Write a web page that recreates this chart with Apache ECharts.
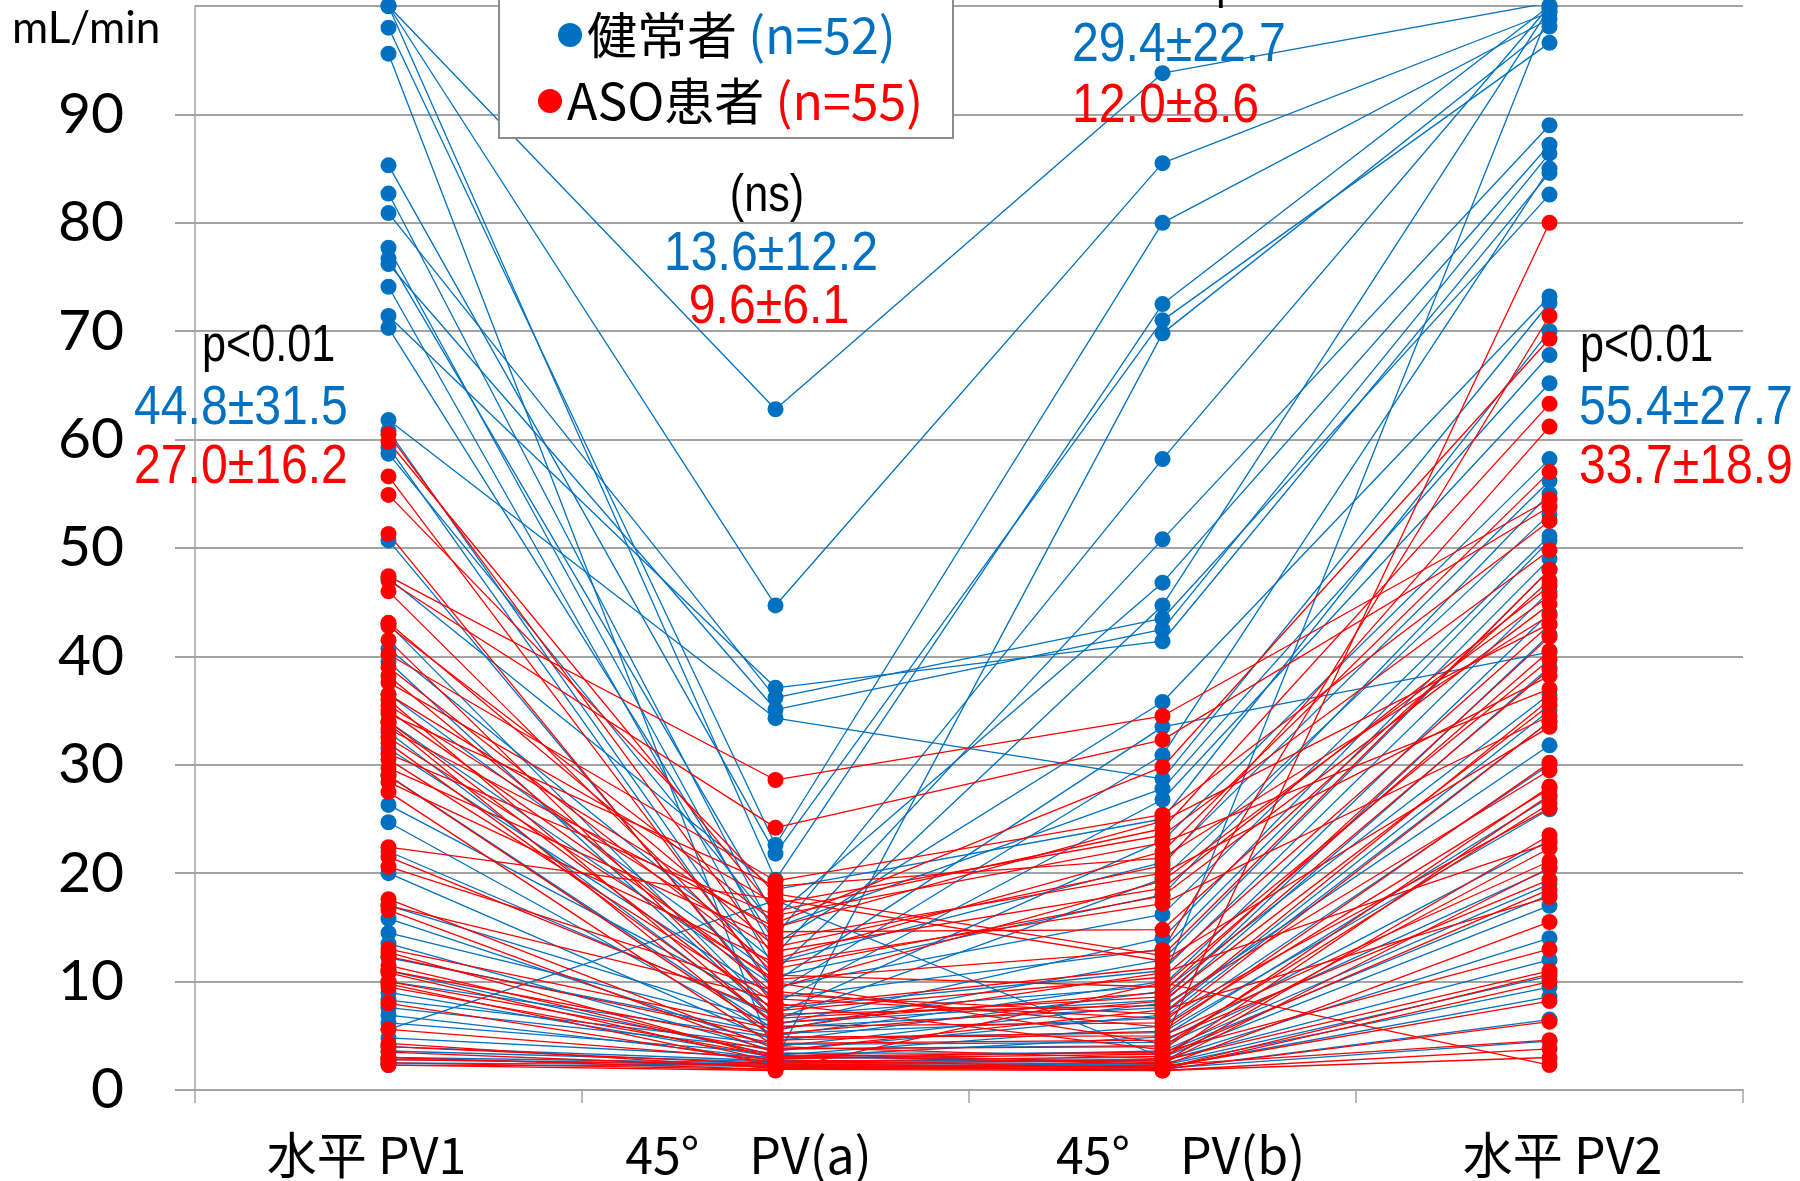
<!DOCTYPE html>
<html><head><meta charset="utf-8">
<script src="https://cdn.jsdelivr.net/npm/echarts@6/dist/echarts.min.js"></script>
<style>html,body{margin:0;padding:0;background:#fff}#c{width:1800px;height:1181px}</style>
</head><body><div id="c"></div>
<script>
// ---- categories / tick labels ----
const categories = ['水平 PV1', '45°\u3000PV(a)', '45°\u3000PV(b)', '水平 PV2'];
const yTicks = [0, 10, 20, 30, 40, 50, 60, 70, 80, 90, 100];

// ---- 健常者 (n=52): one value per subject per position ----
const blueH1 = [100,100,100,98,95.6,85.3,82.7,80.9,77.7,76.7,76.2,74.1,71.4,70.3,61.8,60.8,59.3,58.7,50.7,47.2,43,40.7,39.5,36.5,34,33,31.5,29,26.3,24.7,22,20,17,15.8,14.5,13.5,12.2,11,10,9,8.3,7.6,6.9,6.2,5.6,4.8,4.0,3.6,3.0,2.8,2.5,2.3];
const blueA  = [62.8,44.7,19.4,22.6,2.8,21.8,14.2,36.2,12.5,16,35.1,11,37.1,13.5,34.3,10,9,15,8,18.5,7,11.8,6.5,10.5,9.5,6,8.5,5.5,7.5,5,6.8,4.5,6.2,4,5.8,3.6,5.2,3.2,4.8,3,4.2,3.8,2.9,3.4,17.5,3.0,2.7,2.6,2.5,2.4,2.3,2.2];
const blueB  = [93.8,85.5,72.5,80,69.8,71,58.2,43.5,50.8,46.8,42.5,44.7,41.4,35.8,28.7,33.5,30.9,27.8,26.8,25,23,21,19.5,18,16.2,14,13,12,11,10,9.6,9.1,8.3,8.0,7.6,6.9,6.6,5.9,5.3,4.9,4.4,4.1,3.6,3.4,3.0,2.8,2.7,2.4,2.3,2.1,2.0,1.9];
const blueH2 = [100.3,99.4,100,98.8,98.1,96.6,100,82.6,89,87.2,86.4,99.8,84.6,73.2,72.6,40.4,85,67.8,65.2,70,58.2,56.2,53.1,55,51.1,50.7,49,48,46,99.5,44,36.5,42,39,31.8,35,34,30,25.9,27,23,20.4,19,18,17,14,12,10.5,9.5,8.6,4.5,6.5];

// ---- ASO患者 (n=55) ----
const redH1 = [60.5,59.8,56.6,54.9,51.3,47.4,43.1,46,47,42.8,41.5,40.2,39,38.2,37.6,36.5,36,35.5,35,34.7,34,33.8,33.3,32.5,32,31,30.5,29.7,29,28.4,27.5,22.4,21.5,20.6,17.6,17,16.6,13,12.7,12.3,11.5,11,10.8,10,9.8,9.5,8.0,5.6,4.3,4,3.5,3,2.8,2.5,2.3];
const redA  = [12.1,16.5,9.4,18.1,7.7,28.6,13.2,10.6,24.2,15.4,6.6,19.3,11.2,8.8,17.2,14.6,5.9,12.8,9.9,18.8,7.3,4.6,15.0,10.2,6.2,16.1,8.0,13.9,5.2,11.7,4.0,17.6,7.0,9.1,3.8,8.4,3.4,5.6,2.9,4.9,3.2,4.3,2.6,3.6,2.2,3.1,2.5,2.8,2.0,2.4,2.1,1.9,2.3,1.9,1.8];
const redB  = [22.0,24.1,19.3,12.4,11.3,34.5,20.7,9.5,32.3,29.8,8.6,25.4,17.9,7.0,23.5,14.8,6.2,18.6,4.3,21.4,10.4,5.4,24.8,12.9,9.0,22.8,3.7,20.0,8.2,17.2,2.9,11.9,7.8,5.8,4.0,6.6,2.5,10.8,3.3,5.0,2.4,4.6,3.1,7.4,2.2,3.5,2.7,2.0,1.9,2.1,1.9,2.3,1.8,1.8,9.9];
const redH2 = [57.0,63.3,45.6,48.0,42.9,54.5,61.2,40.5,53.8,69.3,38.8,52.5,44.8,36.0,49.8,47.0,34.0,46.5,80.0,43.8,39.7,30.2,43.0,71.4,41.8,37.0,28.0,38.2,35.5,34.5,27.2,33.5,29.5,27.8,26.4,26.0,23.5,22.8,22.3,21.1,20.5,19.4,18.5,17.8,15.5,13.0,11.0,10.7,10.0,8.2,6.3,4.6,3.8,3.0,2.3];

// ---- text annotations ----
const groupNames = ['健常者', 'ASO患者'];
const groupN = ['(n=52)', '(n=55)'];
const statsPV1 = ['p<0.01', '44.8±31.5', '27.0±16.2'];
const statsPVa = ['(ns)', '13.6±12.2', '9.6±6.1'];
const statsPVb = ['p<0.01', '29.4±22.7', '12.0±8.6'];
const statsPV2 = ['p<0.01', '55.4±27.7', '33.7±18.9'];
const unitLabel = 'mL/min';

const BLUE = '#0070C0', RED = '#FF0000', GRID = '#a3a3a3';
const CJK = '"Noto Sans CJK JP", "Noto Sans", sans-serif';
const SANS = '"Liberation Sans", Arial, sans-serif';

function lineSeries(name, color, vals) {
  return {
    type: 'line', name: name, data: vals,
    symbol: 'circle', symbolSize: 16, showSymbol: true,
    itemStyle: { color: color },
    lineStyle: { color: color, width: 1.3 },
    emphasis: { disabled: true }, silent: true, animation: false, z: 2
  };
}
const series = [];
for (let i = 0; i < blueH1.length; i++) series.push(lineSeries(groupNames[0], BLUE, [blueH1[i], blueA[i], blueB[i], blueH2[i]]));
for (let i = 0; i < redH1.length; i++) series.push(lineSeries(groupNames[1], RED, [redH1[i], redA[i], redB[i], redH2[i]]));

// condensed annotation text: scaled horizontally around its anchor
function txt(text, x, y, color, align, size, sx) {
  return { type: 'text', z: 30, silent: true, x: x, y: y, scaleX: sx, scaleY: 1,
    style: { text: text, x: 0, y: 0, fill: color, textAlign: align, textVerticalAlign: 'middle',
      fontSize: size, fontFamily: SANS } };
}
function num(text, x, y, color, align) { return txt(text, x, y, color, align || 'left', 56, 0.86); }
function sig(text, x, y, align) { return txt(text, x, y, '#000', align || 'left', 52, 0.83); }

const legendRich = {
  t: { fontSize: 50, fontFamily: CJK, color: '#000' },
  b: { fontSize: 50, fontFamily: CJK, color: BLUE },
  r: { fontSize: 50, fontFamily: CJK, color: RED }
};
function legendCfg(i, left, top) {
  return {
    data: [groupNames[i]], left: left, top: top, icon: 'circle', itemWidth: 24, itemHeight: 24,
    selectedMode: false, z: 40, padding: 0,
    formatter: function (n) { return '{t|' + n + '} {' + (i === 0 ? 'b' : 'r') + '|' + groupN[i] + '}'; },
    textStyle: { fontSize: 50, fontFamily: CJK, color: '#000', rich: legendRich }
  };
}

const xRich = {};
const xPad = [[0, 44, 0, 0], [0, 54, 0, 0], [0, 0, 0, 36], [0, 0, 0, 26]];
xPad.forEach(function (p, i) { xRich['s' + i] = { fontSize: 50, fontFamily: CJK, color: '#000', padding: p }; });

const chart = echarts.init(document.getElementById('c'));
chart.setOption({
  animation: false,
  backgroundColor: '#fff',
  grid: { left: 195, right: 57, top: 6, bottom: 91, containLabel: false },
  xAxis: {
    type: 'category', data: categories, boundaryGap: true,
    axisLine: { show: true, lineStyle: { color: GRID, width: 2 } },
    axisTick: { show: true, length: 13, lineStyle: { color: GRID, width: 1.5 } },
    axisLabel: { margin: 40, formatter: function (v, i) { return '{s' + i + '|' + v + '}'; }, rich: xRich },
    splitLine: { show: false }
  },
  yAxis: {
    type: 'value', min: yTicks[0], max: yTicks[yTicks.length - 1], interval: 10,
    axisLine: { show: true, lineStyle: { color: GRID, width: 1.5 } },
    axisTick: { show: true, length: 20, lineStyle: { color: GRID, width: 2 } },
    axisLabel: { margin: 71, fontSize: 57, fontFamily: 'Lato, sans-serif', color: '#000', showMaxLabel: false },
    splitLine: { show: true, lineStyle: { color: GRID, width: 2 } }
  },
  legend: [legendCfg(0, 558, 10), legendCfg(1, 538, 76)],
  graphic: [
    { type: 'rect', z: 20, silent: true, shape: { x: 499, y: -10, width: 454, height: 148 },
      style: { fill: '#fff', stroke: '#8c8c8c', lineWidth: 2 } },
    { type: 'text', z: 30, silent: true,
      style: { text: unitLabel, x: 12, y: 29, fill: '#000', textVerticalAlign: 'middle', fontSize: 44, fontFamily: 'Lato, sans-serif' } },
    sig(statsPV1[0], 202, 347),
    num(statsPV1[1], 134, 409, BLUE),
    num(statsPV1[2], 134, 468, RED),
    sig(statsPVa[0], 767, 197, 'center'),
    num(statsPVa[1], 771, 255, BLUE, 'center'),
    num(statsPVa[2], 769, 308, RED, 'center'),
    sig(statsPVb[0], 1216, -17),
    num(statsPVb[1], 1072, 46, BLUE),
    num(statsPVb[2], 1072, 107, RED),
    sig(statsPV2[0], 1580, 347),
    num(statsPV2[1], 1579, 409, BLUE),
    num(statsPV2[2], 1579, 468, RED)
  ],
  series: series
});
</script></body></html>
